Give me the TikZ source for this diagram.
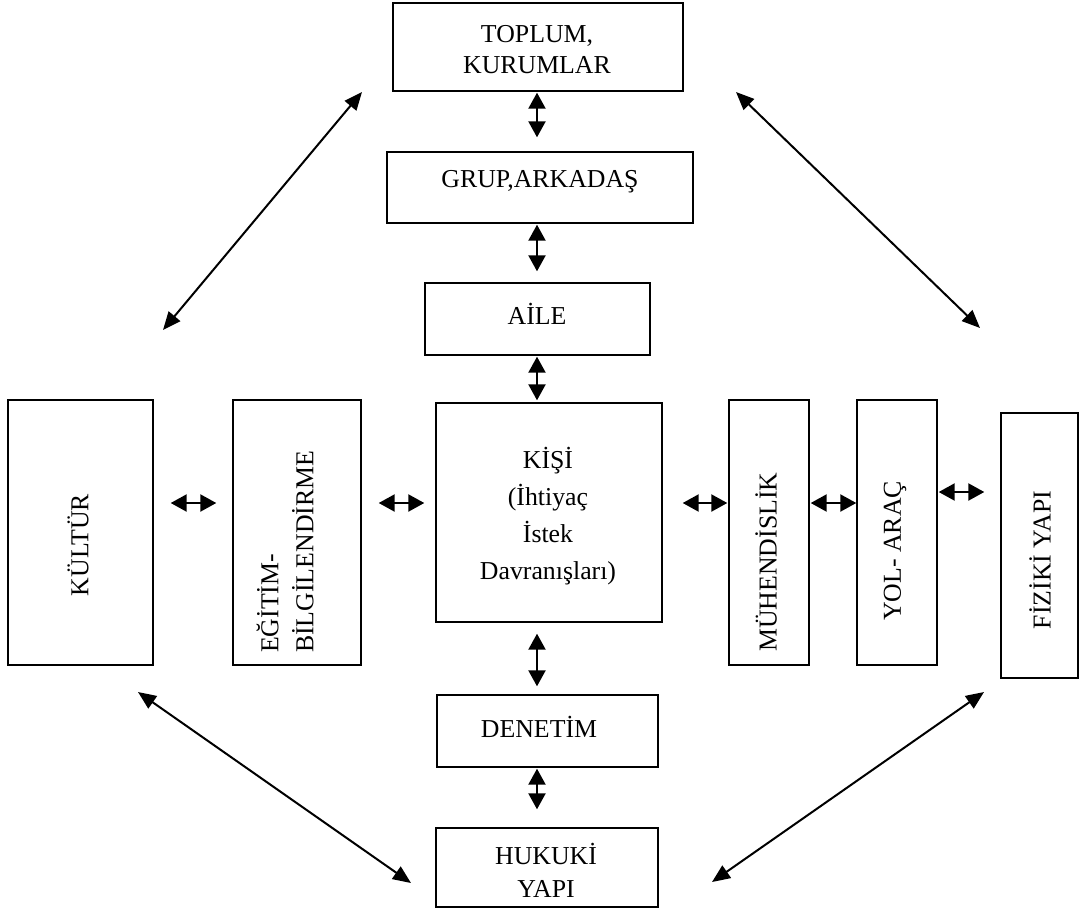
\documentclass[tikz,border=0pt]{standalone}
\usepackage{fontspec}
\setmainfont{Liberation Serif}
\usetikzlibrary{arrows.meta,calc}
\begin{document}
\begin{tikzpicture}[x=1pt,y=-1pt,
  box/.style={draw=black,line width=1.4pt,fill=white,rectangle,inner sep=0pt},
  lbl/.style={inner sep=0pt,font=\fontsize{25.8}{31}\selectfont,align=center},
  vlbl/.style={lbl,rotate=90},
  dar/.style={line width=2.2pt,{Triangle[length=16pt,width=17pt]}-{Triangle[length=16pt,width=17pt]}},
  diag/.style={line width=2pt,{Triangle[length=18pt,width=15pt]}-{Triangle[length=18pt,width=15pt]}}
]
\useasboundingbox (0,0) rectangle (1081,911);
% boxes
\node[box,minimum width=290,minimum height=88] (top) at (538,47) {};
\node[box,minimum width=306,minimum height=71] (grup) at (540,187.5) {};
\node[box,minimum width=225,minimum height=72] (aile) at (537.5,319) {};
\node[box,minimum width=226,minimum height=219] (kisi) at (549,512.5) {};
\node[box,minimum width=221,minimum height=72] (den) at (547.5,731) {};
\node[box,minimum width=222,minimum height=79] (huk) at (547,867.5) {};
\node[box,minimum width=145,minimum height=265] (kul) at (80.5,532.5) {};
\node[box,minimum width=128,minimum height=265] (egt) at (297,532.5) {};
\node[box,minimum width=80,minimum height=265] (muh) at (769,532.5) {};
\node[box,minimum width=80,minimum height=265] (yol) at (897,532.5) {};
\node[box,minimum width=77,minimum height=265] (fiz) at (1039.5,545.5) {};
% labels
\node[lbl] (top-t) at (537,50) {TOPLUM,\\KURUMLAR};
\node[lbl] (grup-t) at (540,182) {GRUP,ARKADAŞ};
\node[lbl] (aile-t) at (537,314) {AİLE};
\node[lbl,font=\fontsize{25.8}{37}\selectfont] (kisi-t) at (548,516) {KİŞİ\\(İhtiyaç\\İstek\\Davranışları)};
\node[lbl] (den-t) at (539,727) {DENETİM};
\node[lbl,font=\fontsize{25.8}{33}\selectfont] (huk-t) at (546,870) {HUKUKİ\\YAPI};
\node[vlbl] (kul-t) at (78,545) {KÜLTÜR};
\node[vlbl,align=left,anchor=west,font=\fontsize{25.8}{35}\selectfont] (egt-t) at (285,653) {EĞİTİM-\\BİLGİLENDİRME};
\node[vlbl] (muh-t) at (766,562) {MÜHENDİSLİK};
\node[vlbl] (yol-t) at (895,551) {YOL- ARAÇ};
\node[vlbl] (fiz-t) at (1040,560) {FİZİKİ YAPI};
% vertical connectors
\coordinate (vx) at (537,0);
\draw[dar,shorten <=1pt,shorten >=14pt] (top.south -| vx) -- (grup.north -| vx);
\draw[dar,shorten <=1pt,shorten >=11pt] (grup.south -| vx) -- (aile.north -| vx);
\draw[dar,shorten <=1pt,shorten >=2pt] (aile.south -| vx) -- (kisi.north -| vx);
\draw[dar,shorten <=11pt,shorten >=8pt] (kisi.south -| vx) -- (den.north -| vx);
\draw[dar,shorten <=1pt,shorten >=18pt] (den.south -| vx) -- (huk.north -| vx);
% horizontal connectors
\coordinate (hy) at (0,503);
\coordinate (hy2) at (0,492);
\draw[dar,shorten <=17pt,shorten >=16pt] (kul.east |- hy) -- (egt.west |- hy);
\draw[dar,shorten <=17pt,shorten >=11pt] (egt.east |- hy) -- (kisi.west |- hy);
\draw[dar,shorten <=20pt,shorten >=1pt] (kisi.east |- hy) -- (muh.west |- hy);
\draw[dar,shorten <=1pt,shorten >=0pt] (muh.east |- hy) -- (yol.west |- hy);
\draw[dar,shorten <=1pt,shorten >=16pt] (yol.east |- hy2) -- (fiz.west |- hy2);
% diagonal connectors
\coordinate (d1a) at (163,330);
\coordinate (d1b) at (362,92);
\coordinate (d2a) at (736,92);
\coordinate (d2b) at (980,328);
\coordinate (d3a) at (138,692);
\coordinate (d3b) at (411,883);
\coordinate (d4a) at (712,882);
\coordinate (d4b) at (984,692);
\draw[diag] (d1a) -- (d1b);
\draw[diag] (d2a) -- (d2b);
\draw[diag] (d3a) -- (d3b);
\draw[diag] (d4a) -- (d4b);
\end{tikzpicture}
\end{document}
